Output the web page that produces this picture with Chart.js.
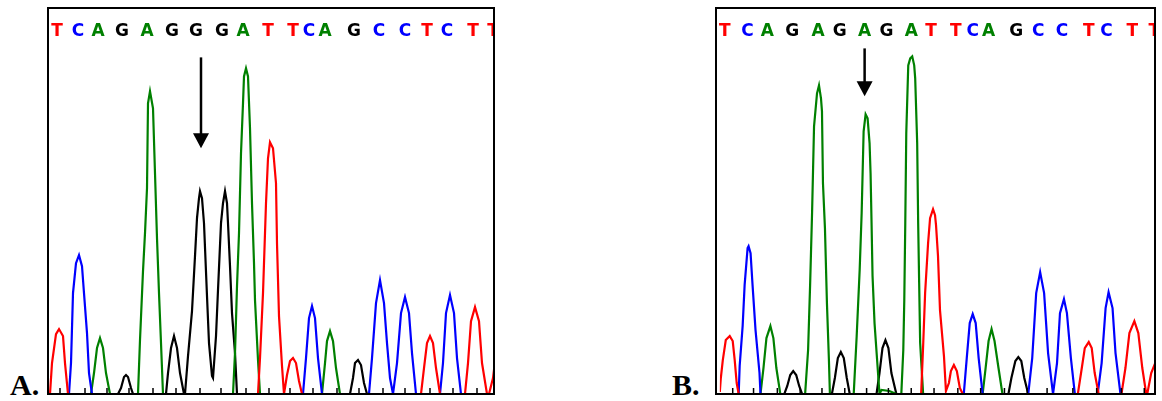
<!DOCTYPE html>
<html>
<head>
<meta charset="utf-8">
<script src="https://cdn.jsdelivr.net/npm/chart.js@4"></script>
<style>
  body { margin: 0; background: #fff; width: 1162px; height: 401px; position: relative; overflow: hidden; }
  .frame { position: absolute; top: 7px; height: 388px; border: 2px solid #000; box-sizing: border-box; overflow: hidden; background: #fff; }
  #frameA { left: 47px; width: 448px; }
  #frameB { left: 715px; width: 441px; }
  .frame canvas { position: absolute; left: 0; top: 0; }
  .tag { position: absolute; top: 370px; font: bold 30px 'Liberation Serif', 'Times New Roman', serif; line-height: 30px; color: #000; }
</style>
</head>
<body>
<div class="tag" style="left:10px">A.</div>
<div class="tag" style="left:672px">B.</div>
<div class="frame" id="frameA"><canvas id="chartA" width="452" height="384"></canvas></div>
<div class="frame" id="frameB"><canvas id="chartB" width="445" height="384"></canvas></div>
<script>
// trace samples: [scan, signal]
// panel A (heterozygous G/A -> two G peaks)
const aTraceT = [[0, 2], [1, 2], [3, 33], [7, 62], [10, 67], [14, 60], [16, 33], [19, 2], [209, 2], [211, 38], [214, 103], [217, 193], [219, 238], [221, 254], [224, 248], [227, 213], [228, 153], [230, 80], [233, 30], [235, 2], [238, 21], [241, 35], [244, 38], [247, 33], [250, 15], [253, 2], [372, 2], [375, 28], [378, 53], [381, 60], [384, 53], [387, 28], [391, 2], [416, 2], [419, 33], [422, 75], [426, 89], [430, 75], [433, 33], [438, 2], [440, 2], [444, 18], [447, 43]];
const aTraceC = [[0, 2], [20, 2], [22, 33], [24, 103], [27, 133], [30, 141], [33, 130], [35, 103], [38, 63], [40, 23], [43, 2], [254, 2], [257, 38], [260, 78], [263, 90], [266, 78], [269, 38], [273, 2], [320, 2], [323, 38], [327, 93], [331, 116], [335, 93], [338, 53], [341, 18], [344, 2], [348, 33], [352, 83], [356, 99], [360, 83], [363, 43], [367, 2], [391, 2], [394, 33], [397, 83], [401, 101], [405, 83], [408, 38], [412, 2], [447, 2]];
const aTraceA = [[0, 2], [42, 2], [45, 23], [48, 48], [51, 58], [54, 48], [57, 23], [61, 2], [89, 2], [91, 56], [94, 125], [96, 163], [98, 208], [99, 293], [101, 305], [104, 288], [106, 223], [108, 158], [110, 103], [112, 53], [114, 2], [184, 2], [186, 43], [188, 110], [190, 163], [192, 243], [194, 293], [195, 320], [197, 328], [199, 320], [201, 268], [203, 193], [205, 133], [206, 96], [209, 36], [211, 2], [273, 2], [276, 33], [278, 55], [281, 65], [284, 55], [287, 28], [291, 2], [447, 2]];
const aTraceG = [[0, 2], [69, 2], [72, 8], [75, 19], [77, 21], [79, 19], [82, 8], [84, 2], [117, 2], [119, 23], [122, 48], [125, 60], [128, 48], [131, 23], [135, 2], [136, 2], [139, 40], [143, 85], [146, 140], [148, 178], [150, 198], [151, 205], [153, 198], [155, 173], [158, 100], [160, 53], [163, 20], [164, 18], [167, 60], [169, 106], [172, 173], [174, 193], [176, 205], [178, 193], [179, 173], [181, 130], [183, 83], [186, 43], [188, 2], [301, 2], [304, 18], [306, 33], [309, 36], [312, 31], [315, 13], [318, 2], [447, 2]];
const aBases = ['T', 'C', 'A', 'G', 'A', 'G', 'G', 'G', 'A', 'T', 'T', 'C', 'A', 'G', 'C', 'C', 'T', 'C', 'T', 'T'];
const aBaseScan = [8, 29, 49, 73, 98, 123, 147, 173, 194, 219, 244, 260, 276, 305, 330, 356, 378, 398, 424, 444];
const aCallScan = [11, 36, 58, 80, 104, 127, 151, 172, 197, 220, 241, 264, 288, 310, 334, 356, 381, 404, 428];

// panel B (homozygous A)
const bTraceT = [[0, 4], [1, 18], [3, 36], [6, 56], [10, 60], [13, 55], [15, 36], [17, 13], [19, 2], [203, 2], [205, 50], [207, 103], [210, 153], [212, 178], [215, 187], [217, 181], [218, 171], [220, 140], [222, 86], [226, 40], [228, 5], [231, 13], [233, 25], [236, 31], [239, 25], [242, 8], [245, 2], [361, 2], [365, 28], [368, 48], [372, 54], [375, 48], [378, 23], [382, 2], [405, 2], [409, 28], [413, 63], [418, 75], [422, 63], [426, 28], [430, 2], [431, 2], [435, 23], [439, 33]];
const bTraceC = [[0, 2], [19, 2], [20, 30], [23, 70], [25, 111], [28, 148], [29, 150], [31, 143], [33, 111], [36, 66], [40, 23], [41, 2], [246, 2], [249, 38], [252, 73], [255, 82], [258, 73], [261, 38], [265, 2], [311, 2], [315, 38], [319, 103], [323, 124], [327, 103], [331, 43], [336, 2], [340, 33], [343, 83], [347, 97], [350, 83], [354, 38], [358, 2], [381, 2], [385, 33], [389, 88], [392, 104], [396, 88], [399, 43], [404, 2], [439, 2]];
const bTraceA = [[0, 2], [41, 2], [44, 28], [47, 58], [51, 70], [54, 58], [57, 28], [61, 2], [86, 2], [89, 46], [91, 110], [93, 183], [95, 270], [98, 303], [100, 311], [102, 298], [103, 285], [104, 213], [106, 168], [108, 93], [110, 36], [111, 2], [135, 2], [138, 60], [141, 126], [143, 183], [145, 265], [147, 282], [149, 278], [151, 253], [152, 223], [153, 173], [154, 120], [156, 73], [160, 16], [161, 2], [163, 6], [171, 5], [178, 2], [183, 2], [185, 46], [186, 96], [187, 173], [188, 263], [190, 331], [192, 338], [194, 340], [196, 331], [197, 318], [199, 253], [200, 173], [201, 113], [202, 53], [205, 2], [265, 2], [268, 28], [271, 55], [274, 67], [277, 55], [281, 28], [285, 2], [439, 2]];
const bTraceG = [[0, 2], [65, 2], [68, 10], [71, 21], [74, 25], [77, 21], [80, 10], [83, 2], [113, 2], [116, 18], [119, 38], [122, 44], [125, 38], [128, 18], [131, 2], [158, 2], [161, 23], [164, 48], [167, 56], [170, 48], [173, 23], [178, 2], [291, 2], [294, 18], [298, 35], [301, 39], [304, 35], [307, 18], [311, 2], [439, 2]];
const bBases = ['T', 'C', 'A', 'G', 'A', 'G', 'A', 'G', 'A', 'T', 'T', 'C', 'A', 'G', 'C', 'C', 'T', 'C', 'T', 'T'];
const bBaseScan = [5, 28, 48, 73, 99, 121, 146, 168, 193, 213, 238, 255, 271, 299, 321, 345, 372, 390, 416, 438];
const bCallScan = [13, 34, 58, 81, 103, 126, 148, 170, 193, 216, 240, 263, 287, 310, 330, 356, 380, 405, 428];

const baseColors = { A: '#008000', C: '#0000ff', G: '#000000', T: '#ff0000' };

// arrow marking the variant position
const arrowPlugin = {
  id: 'variantArrow',
  afterDatasetsDraw: (chart, args, opts) => {
    const { ctx } = chart;
    const { x, y } = chart.scales;
    const px = x.getPixelForValue(opts.scan);
    const top = y.getPixelForValue(opts.from);
    const tip = y.getPixelForValue(opts.to);
    ctx.save();
    ctx.strokeStyle = '#000';
    ctx.fillStyle = '#000';
    ctx.lineWidth = 2.5;
    ctx.beginPath();
    ctx.moveTo(px, top);
    ctx.lineTo(px, tip - 10);
    ctx.stroke();
    ctx.beginPath();
    ctx.moveTo(px - 8, tip - 15);
    ctx.lineTo(px + 8, tip - 15);
    ctx.lineTo(px, tip);
    ctx.closePath();
    ctx.fill();
    ctx.restore();
  },
};

const toPoints = (arr) => arr.map(([x, y]) => ({ x, y }));

const makePanel = (id, traces, bases, baseScan, callScan, arrow, xMax) => {
  const traceSet = (key, arr) => ({
    label: key,
    data: toPoints(arr),
    borderColor: baseColors[key],
    borderWidth: 2.2,
    pointRadius: 0,
    pointHoverRadius: 0,
    tension: 0,
    fill: false,
    clip: 0,
  });
  const config = {
    type: 'line',
    plugins: [arrowPlugin],
    data: {
      datasets: [
        {
          label: 'calls',
          data: callScan.map((x) => ({ x, y: 5.5 })),
          showLine: false,
          pointStyle: 'line',
          rotation: 90,
          pointRadius: 2.5,
          pointHoverRadius: 0,
          borderColor: '#000',
          borderWidth: 1.5,
          clip: 0,
        },
        traceSet('T', traces.T),
        traceSet('C', traces.C),
        traceSet('A', traces.A),
        traceSet('G', traces.G),
      ],
    },
    options: {
      responsive: false,
      animation: false,
      events: [],
      layout: { autoPadding: false, padding: { top: 10, right: 6, left: 0, bottom: 0 } },
      plugins: {
        legend: false,
        tooltip: { enabled: false },
        variantArrow: arrow,
      },
      scales: {
        x: { type: 'linear', min: 0, max: xMax, display: false },
        y: { type: 'linear', min: 3, max: 353, display: false },
        x2: {
          type: 'linear',
          position: 'top',
          min: 0,
          max: xMax,
          grid: { display: false, drawTicks: false },
          border: { display: false },
          afterBuildTicks: (axis) => {
            axis.ticks = baseScan.map((v) => ({ value: v }));
          },
          ticks: {
            autoSkip: false,
            maxRotation: 0,
            padding: 2,
            font: { family: 'DejaVu Sans', size: 17, weight: 'bold' },
            callback: (v, i) => bases[i],
            color: (c) => baseColors[bases[c.index]],
          },
        },
      },
    },
  };
  return new Chart(document.getElementById(id), config);
};

makePanel('chartA', { T: aTraceT, C: aTraceC, A: aTraceA, G: aTraceG }, aBases, aBaseScan, aCallScan, { scan: 152, from: 339, to: 248 }, 446);
makePanel('chartB', { T: bTraceT, C: bTraceC, A: bTraceA, G: bTraceG }, bBases, bBaseScan, bCallScan, { scan: 146, from: 348, to: 300 }, 439);
</script>
</body>
</html>
